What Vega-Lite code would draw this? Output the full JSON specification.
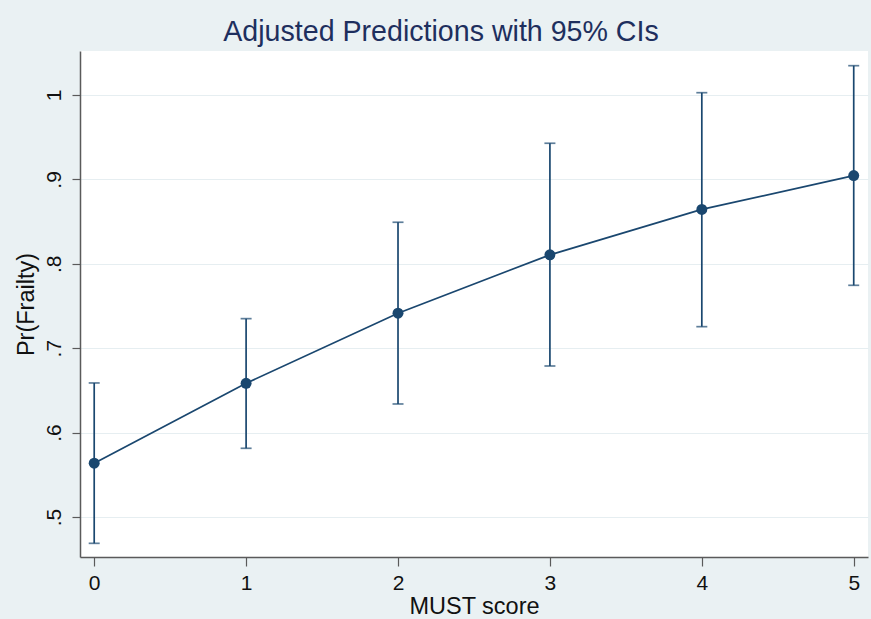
{
  "$schema": "https://vega.github.io/schema/vega-lite/v6.json",
  "width": 788,
  "height": 506,
  "autosize": {"type": "none"},
  "padding": {"left": 80, "top": 51, "right": 3, "bottom": 62},
  "background": "#EAF1F3",
  "title": {
    "text": "Adjusted Predictions with 95% CIs",
    "font": "Liberation Sans",
    "fontSize": 28.6,
    "fontWeight": "normal",
    "color": "#1E2F5E",
    "anchor": "middle",
    "frame": "group",
    "dx": -33,
    "baseline": "alphabetic",
    "offset": -19
  },
  "config": {
    "view": {"stroke": null, "fill": "white"},
    "font": "Liberation Sans",
    "axis": {
      "labelFont": "Liberation Sans",
      "titleFont": "Liberation Sans",
      "labelColor": "#111111",
      "titleColor": "#111111",
      "titleFontWeight": "normal",
      "domainColor": "#5a5a5a",
      "domainWidth": 1.5,
      "tickColor": "#5a5a5a",
      "tickWidth": 1.2
    }
  },
  "data": {
    "values": [
      {"must": 0, "pr": 0.5637, "lo": 0.4688, "hi": 0.6588},
      {"must": 1, "pr": 0.6584, "lo": 0.5814, "hi": 0.7350},
      {"must": 2, "pr": 0.7414, "lo": 0.6339, "hi": 0.8492},
      {"must": 3, "pr": 0.8106, "lo": 0.6789, "hi": 0.9428},
      {"must": 4, "pr": 0.8644, "lo": 0.7255, "hi": 1.0027},
      {"must": 5, "pr": 0.9045, "lo": 0.7745, "hi": 1.0347}
    ]
  },
  "encoding": {
    "x": {
      "field": "must",
      "type": "quantitative",
      "title": "MUST score",
      "scale": {"domain": [-0.0935, 5.094], "nice": false, "zero": false},
      "axis": {
        "values": [0, 1, 2, 3, 4, 5],
        "grid": false,
        "tickSize": 9,
        "labelFontSize": 21,
        "labelBaseline": "alphabetic",
        "labelPadding": 23,
        "labelFlush": false,
        "titleFontSize": 23.5,
        "titleBaseline": "alphabetic",
        "titleY": 56
      }
    }
  },
  "layer": [
    {
      "mark": {"type": "rule", "color": "#1A476F", "strokeWidth": 1.7},
      "encoding": {
        "y": {
          "field": "lo",
          "type": "quantitative",
          "title": "Pr(Frailty)",
          "scale": {"domain": [0.4526, 1.0521], "nice": false, "zero": false},
          "axis": {
            "values": [0.5, 0.6, 0.7, 0.8, 0.9, 1],
            "labelExpr": "datum.value == 1 ? '1' : '.' + toString(round(datum.value * 10))",
            "grid": true,
            "gridColor": "#E6EEF1",
            "gridWidth": 1.2,
            "tickSize": 8,
            "labelAngle": 270,
            "labelAlign": "center",
            "labelBaseline": "alphabetic",
            "labelPadding": 12,
            "labelFontSize": 21,
            "labelFlush": false,
            "titleFontSize": 23.5,
            "titleAngle": 270,
            "titleAlign": "center",
            "titleBaseline": "alphabetic",
            "titleX": -47,
            "titleY": 253
          }
        },
        "y2": {"field": "hi"}
      }
    },
    {
      "mark": {"type": "tick", "orient": "horizontal", "color": "#1A476F", "size": 11, "thickness": 1.7},
      "encoding": {"y": {"field": "lo", "type": "quantitative"}}
    },
    {
      "mark": {"type": "tick", "orient": "horizontal", "color": "#1A476F", "size": 11, "thickness": 1.7},
      "encoding": {"y": {"field": "hi", "type": "quantitative"}}
    },
    {
      "mark": {"type": "line", "color": "#1A476F", "strokeWidth": 1.7},
      "encoding": {"y": {"field": "pr", "type": "quantitative"}}
    },
    {
      "mark": {"type": "point", "filled": true, "shape": "circle", "color": "#1A476F", "opacity": 1, "size": 120},
      "encoding": {"y": {"field": "pr", "type": "quantitative"}}
    }
  ]
}
